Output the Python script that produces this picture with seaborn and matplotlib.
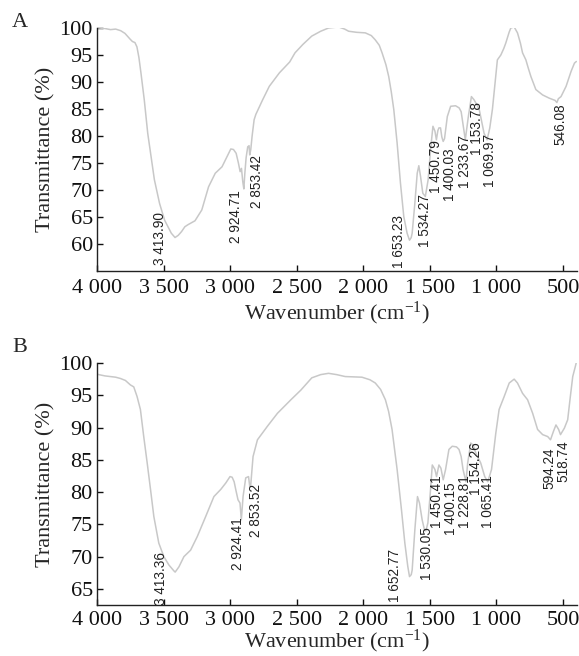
import matplotlib
matplotlib.use("Agg")
import matplotlib.pyplot as plt
import seaborn as sns
import pandas as pd

# ---------------- data ----------------
wn_a = [4000, 3987, 3940, 3898, 3860, 3822, 3790, 3772, 3750, 3734, 3715, 3700, 3685, 3670,
        3645, 3619, 3594, 3569, 3530, 3492, 3442, 3414, 3390, 3365, 3340, 3315, 3264, 3213,
        3162, 3112, 3061, 3023, 2995, 2975, 2955, 2938, 2925, 2915, 2905, 2897, 2890, 2880,
        2868, 2858, 2853, 2845, 2835, 2820, 2807, 2756, 2706, 2630, 2553, 2513, 2452, 2387,
        2320, 2261, 2186, 2140, 2110, 2050, 1985, 1940, 1910, 1880, 1859, 1830, 1809, 1790,
        1771, 1746, 1721, 1696, 1671, 1653, 1640, 1633, 1613, 1595, 1583, 1570, 1553, 1534,
        1513, 1495, 1477, 1462, 1451, 1440, 1432, 1420, 1410, 1400, 1390, 1369, 1344, 1307,
        1280, 1265, 1250, 1234, 1211, 1188, 1168, 1154, 1130, 1118, 1093, 1070, 1050, 1030,
        1018, 993, 967, 945, 930, 905, 892, 867, 842, 820, 804, 779, 760, 741, 704, 653, 603,
        560, 546, 535, 515, 477, 439, 414, 400]
tr_a = [100.0, 100.0, 99.9, 99.7, 99.8, 99.5, 99.0, 98.5, 97.9, 97.5, 97.3, 96.5, 94.5, 91.7,
        86.7, 80.5, 76.2, 71.9, 67.5, 64.4, 62.0, 61.2, 61.6, 62.3, 63.2, 63.6, 64.3, 66.3,
        70.6, 73.1, 74.3, 76.2, 77.6, 77.5, 76.8, 75.0, 73.4, 74.0, 71.5, 70.2, 73.0, 76.0,
        78.0, 78.2, 76.5, 77.5, 80.0, 83.0, 84.0, 86.7, 89.2, 91.7, 93.7, 95.4, 97.0, 98.5,
        99.4, 100.0, 100.2, 99.8, 99.4, 99.2, 99.1, 98.6, 97.8, 96.8, 95.4, 93.2, 91.0, 88.2,
        84.9, 78.7, 71.3, 65.1, 62.0, 60.7, 61.2, 62.0, 67.5, 73.1, 74.5, 72.5, 69.4, 68.8,
        71.9, 77.4, 81.8, 80.9, 79.3, 81.0, 81.5, 81.5, 79.8, 79.0, 79.5, 83.6, 85.5, 85.6,
        85.2, 84.5, 82.0, 79.3, 83.6, 87.3, 86.7, 86.1, 85.0, 83.6, 80.5, 79.3, 81.5, 85.0,
        87.9, 94.1, 95.0, 96.2, 97.2, 99.2, 100.0, 100.2, 99.1, 97.2, 95.4, 94.1, 92.5, 91.0,
        88.6, 87.6, 87.0, 86.6, 86.2, 86.9, 87.3, 89.2, 92.0, 93.5, 93.8]

wn_b = [4000, 3987, 3940, 3900, 3860, 3824, 3787, 3749, 3724, 3699, 3674, 3649, 3623, 3598,
        3573, 3536, 3498, 3460, 3423, 3413, 3385, 3347, 3297, 3247, 3184, 3122, 3071, 3033,
        3001, 2985, 2970, 2958, 2941, 2926, 2916, 2903, 2883, 2862, 2853, 2845, 2828, 2795,
        2720, 2645, 2544, 2469, 2387, 2320, 2261, 2200, 2136, 2010, 1950, 1910, 1870, 1834,
        1810, 1784, 1746, 1713, 1688, 1666, 1653, 1640, 1633, 1613, 1593, 1578, 1558, 1540,
        1530, 1515, 1495, 1482, 1462, 1450, 1432, 1417, 1400, 1382, 1357, 1332, 1300, 1281,
        1265, 1251, 1229, 1216, 1193, 1176, 1154, 1118, 1088, 1065, 1037, 1005, 980, 942, 904,
        867, 842, 804, 766, 728, 691, 653, 615, 594, 572, 553, 533, 519, 490, 465, 445, 427,
        407, 400]
tr_b = [98.3, 98.2, 98.0, 97.9, 97.8, 97.6, 97.3, 96.6, 96.3, 94.8, 92.8, 88.6, 84.5, 80.4,
        76.2, 72.1, 70.0, 68.7, 67.8, 67.6, 68.4, 70.0, 71.0, 73.1, 76.2, 79.3, 80.4, 81.4,
        82.4, 82.3, 81.6, 80.4, 78.8, 78.3, 75.7, 79.3, 82.2, 82.4, 80.9, 81.2, 85.5, 88.1,
        90.2, 92.2, 94.3, 95.8, 97.7, 98.2, 98.4, 98.2, 97.9, 97.8, 97.4, 96.9, 95.9, 94.3,
        92.5, 89.7, 83.5, 77.2, 72.1, 68.5, 66.9, 67.2, 67.9, 74.1, 79.3, 78.3, 75.7, 74.1,
        74.0, 75.2, 80.4, 84.2, 83.5, 82.4, 84.2, 83.7, 81.9, 83.5, 86.6, 87.1, 87.0, 86.6,
        85.5, 83.5, 81.6, 84.5, 87.6, 87.3, 86.0, 84.5, 82.4, 81.6, 83.5, 89.1, 92.8, 94.8,
        96.9, 97.5, 96.9, 95.3, 94.3, 92.2, 89.7, 88.9, 88.6, 88.1, 89.4, 90.4, 89.7, 88.9,
        89.9, 91.2, 94.8, 97.9, 99.5, 100.1]

peaks_a = ["3 413.90", "2 924.71", "2 853.42", "1 653.23", "1 534.27", "1 450.79",
           "1 400.03", "1 233.67", "1 153.78", "1 069.97", "546.08"]
peaks_b = ["3 413.36", "2 924.41", "2 853.52", "1 652.77", "1 530.05", "1 450.41",
           "1 400.15", "1 228.81", "1 154.26", "1 065.41", "594.24", "518.74"]

xticks = [4000, 3500, 3000, 2500, 2000, 1500, 1000, 500]
xtick_labels = ["4 000", "3 500", "3 000", "2 500", "2 000", "1 500", "1 000", "500"]
yticks_a = [60, 65, 70, 75, 80, 85, 90, 95, 100]
yticks_b = [65, 70, 75, 80, 85, 90, 95, 100]

# ---------------- layout (label anchor positions: x, bottom y) ----------------
pos_a = [(3530, 56.1), (2959, 60.1), (2800, 66.6), (1734, 55.5), (1533, 59.5), (1452, 69.4),
         (1348, 67.9), (1239, 70.3), (1143, 76.5), (1050, 70.6), (520, 78.4)]
pos_b = [(3523, 62.5), (2941, 67.9), (2808, 73.1), (1759, 63.0), (1520, 66.4), (1450, 74.4),
         (1345, 73.4), (1239, 74.4), (1151, 79.6), (1060, 74.4), (603, 80.4), (495, 81.6)]

sns.set_style("ticks")
plt.rcParams["font.family"] = ["Liberation Serif", "DejaVu Serif"]
plt.rcParams["mathtext.fontset"] = "custom"
plt.rcParams["mathtext.rm"] = "Liberation Serif"
plt.rcParams["mathtext.it"] = "Liberation Serif:italic"

W, H = 579, 656
fig = plt.figure(figsize=(W / 100, H / 100), dpi=100)
fig.patch.set_facecolor("white")

def px_axes(x0, y0, x1, y1):
    return fig.add_axes([x0 / W, 1 - y1 / H, (x1 - x0) / W, (y1 - y0) / H])

ax_a = px_axes(97, 28, 577, 271)
ax_b = px_axes(97, 363, 577, 605)

line_color = "#c8c8c8"

panels = [
    (ax_a, wn_a, tr_a, peaks_a, pos_a, yticks_a, (55, 100), "A", 12, 27, 6, 1),
    (ax_b, wn_b, tr_b, peaks_b, pos_b, yticks_b, (62.5, 100), "B", 12, 352, 4, -1),
]

for ax, wn, tr, peaks, pos, yt, ylim, letter, lx, ly, tpad, lpad in panels:
    df = pd.DataFrame({"wn": wn, "T": tr})
    sns.lineplot(data=df, x="wn", y="T", ax=ax, color=line_color, linewidth=1.1,
                 estimator=None, sort=True)
    for s, (x, y) in zip(peaks, pos):
        ax.text(x, y, s, rotation=90, ha="center", va="bottom",
                fontsize=9.8, family=["Liberation Sans Narrow", "Liberation Sans", "DejaVu Sans"],
                color="#222222")
    ax.set_xlim(4000, 395)
    ax.set_ylim(*ylim)
    ax.set_xticks(xticks)
    ax.set_xticklabels(xtick_labels)
    ax.set_yticks(yt)
    ax.tick_params(direction="in", length=4, width=1, labelsize=16, colors="#111111")
    ax.tick_params(axis="x", pad=tpad)
    ax.tick_params(axis="y", pad=3)
    for side in ["top", "right"]:
        ax.spines[side].set_visible(False)
    for side in ["left", "bottom"]:
        ax.spines[side].set_linewidth(1.0)
        ax.spines[side].set_color("#222222")
    ax.set_xlabel("Wavenumber (cm$^{-1}$)", fontsize=16, labelpad=lpad)
    ax.set_ylabel("Transmittance (%)", fontsize=16, labelpad=3)
    fig.text(lx / W, 1 - ly / H, letter, fontsize=16, ha="left", va="baseline")

fig.savefig("out.png", dpi=100, facecolor="white")
